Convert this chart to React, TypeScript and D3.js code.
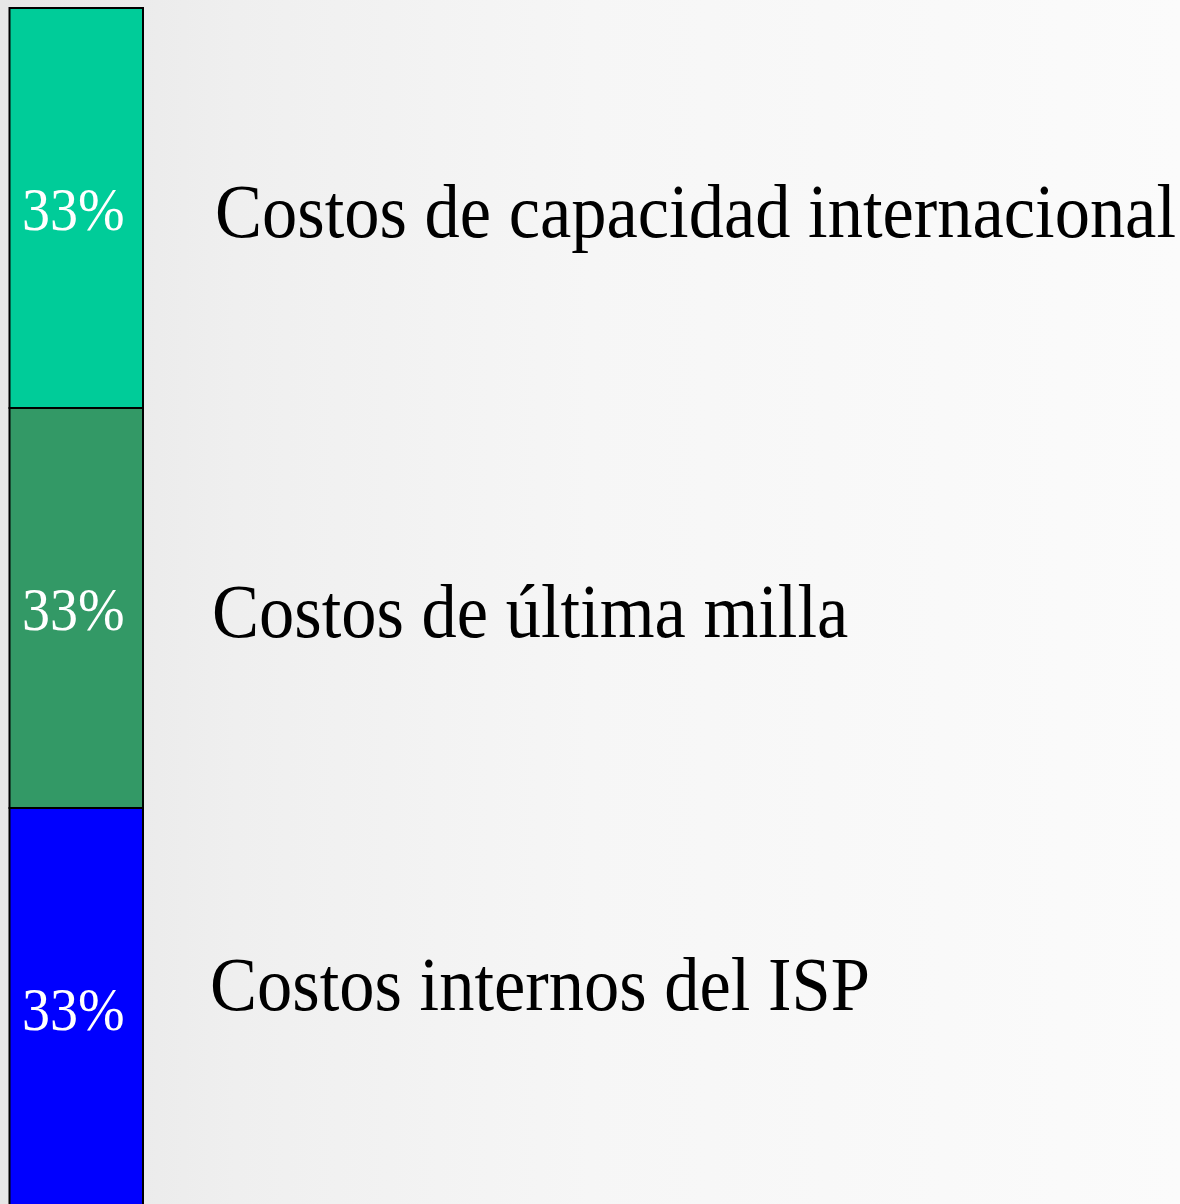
import React from "react";
import * as d3 from "d3";

const categories = ["Costos internos del ISP", "Costos de última milla", "Costos de capacidad internacional"];
const values = [33, 33, 33];
const colors = ["#0000ff", "#339966", "#00cc99"];
const percentLabels = ["33%", "33%", "33%"];

const W = 1180;
const H = 1204;

export default function App() {
  const stack = d3.cumsum(values);
  const total = stack[stack.length - 1];
  const y = d3.scaleLinear().domain([0, total]).range([1208, 8]);
  const x0 = 9.5;
  const x1 = 143;
  const labelX = [210, 212, 215];
  const labelOffset = [2, 29, 29];
  return (
    <svg width={W} height={H} style={{ position: "absolute", left: 0, top: 0 }}>
      <defs>
        <linearGradient id="bg" x1="0" y1="0" x2="1" y2="0">
          <stop offset="0" stopColor="#e6e6e6" />
          <stop offset="0.2" stopColor="#efefef" />
          <stop offset="0.5" stopColor="#f6f6f6" />
          <stop offset="1" stopColor="#fbfbfb" />
        </linearGradient>
      </defs>
      <rect x={0} y={0} width={W} height={H} fill="url(#bg)" />
      {values.map((v, i) => {
        const top = y(stack[i]);
        const bottom = y(stack[i] - v);
        const cy = (top + bottom) / 2;
        return (
          <g key={i}>
            <rect x={x0} y={top} width={x1 - x0} height={bottom - top} fill={colors[i]} stroke="#000" strokeWidth={2} />
            <g transform={`translate(${(x0 + x1) / 2 - 3},${cy + 22}) scale(1,1.08)`}>
              <text textAnchor="middle" fontFamily="'Liberation Serif', 'Times New Roman', serif" fontSize={56} fill="#fff">
                {percentLabels[i]}
              </text>
            </g>
            <g transform={`translate(${labelX[i]},${cy + labelOffset[i]}) scale(1,1.08)`}>
              <text fontFamily="'Liberation Serif', 'Times New Roman', serif" fontSize={70.5} fill="#000">
                {categories[i]}
              </text>
            </g>
          </g>
        );
      })}
    </svg>
  );
}
